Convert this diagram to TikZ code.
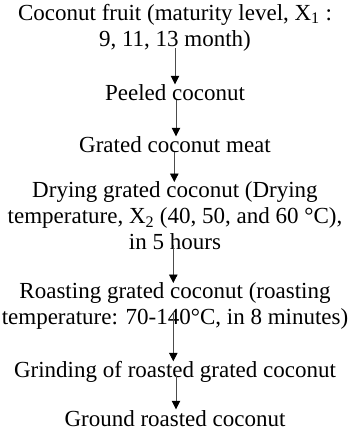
\documentclass[tikz,border=0pt]{standalone}
\usepackage{fontspec}
\setmainfont{Liberation Serif}
\usetikzlibrary{arrows.meta}
\tikzset{
  stage/.style={anchor=north, inner sep=0pt, outer sep=0pt, align=center,
    font=\fontsize{23pt}{26pt}\selectfont},
  arr/.style={draw=black!70, line width=0.8pt,
    -{Triangle[width=8.5pt,length=8.5pt,color=black]}}
}
\begin{document}
\begin{tikzpicture}[x=1pt,y=1pt]
\useasboundingbox (0,0) rectangle (350,-431);
\node[stage] (a) at (175,-4) {Coconut fruit (maturity level, X\textsubscript{1} :\\9, 11, 13 month)};
\node[stage] (b) at (175,-84.3) {Peeled coconut};
\node[stage] (c) at (175,-136.3) {Grated coconut meat};
\node[stage] (d) at (175,-182) {Drying grated coconut (Drying\\temperature, X\textsubscript{2} (40, 50, and 60 °C),\\in 5 hours};
\node[stage] (e) at (175,-283) {Roasting grated coconut (roasting\\temperature: 70-140°C, in 8 minutes)};
\node[stage] (f) at (175,-361.3) {Grinding of roasted grated coconut};
\node[stage] (g) at (175,-410.3) {Ground roasted coconut};
\draw[arr] ([xshift=0pt,yshift=3pt]a.south) -- ([xshift=0pt]b.north);
\draw[arr] ([xshift=1pt]b.south) -- ([xshift=1pt]c.north);
\draw[arr] ([xshift=-0.7pt]c.south) -- ([xshift=-0.7pt]d.north);
\draw[arr] ([xshift=-1.7pt,yshift=5pt]d.south) -- ([xshift=-1.7pt]e.north);
\draw[arr] ([xshift=-1.7pt,yshift=18pt]e.south) -- ([xshift=-1.7pt]f.north);
\draw[arr] ([xshift=1pt,yshift=6pt]f.south) -- ([xshift=1pt,yshift=1pt]g.north);
\end{tikzpicture}
\end{document}
